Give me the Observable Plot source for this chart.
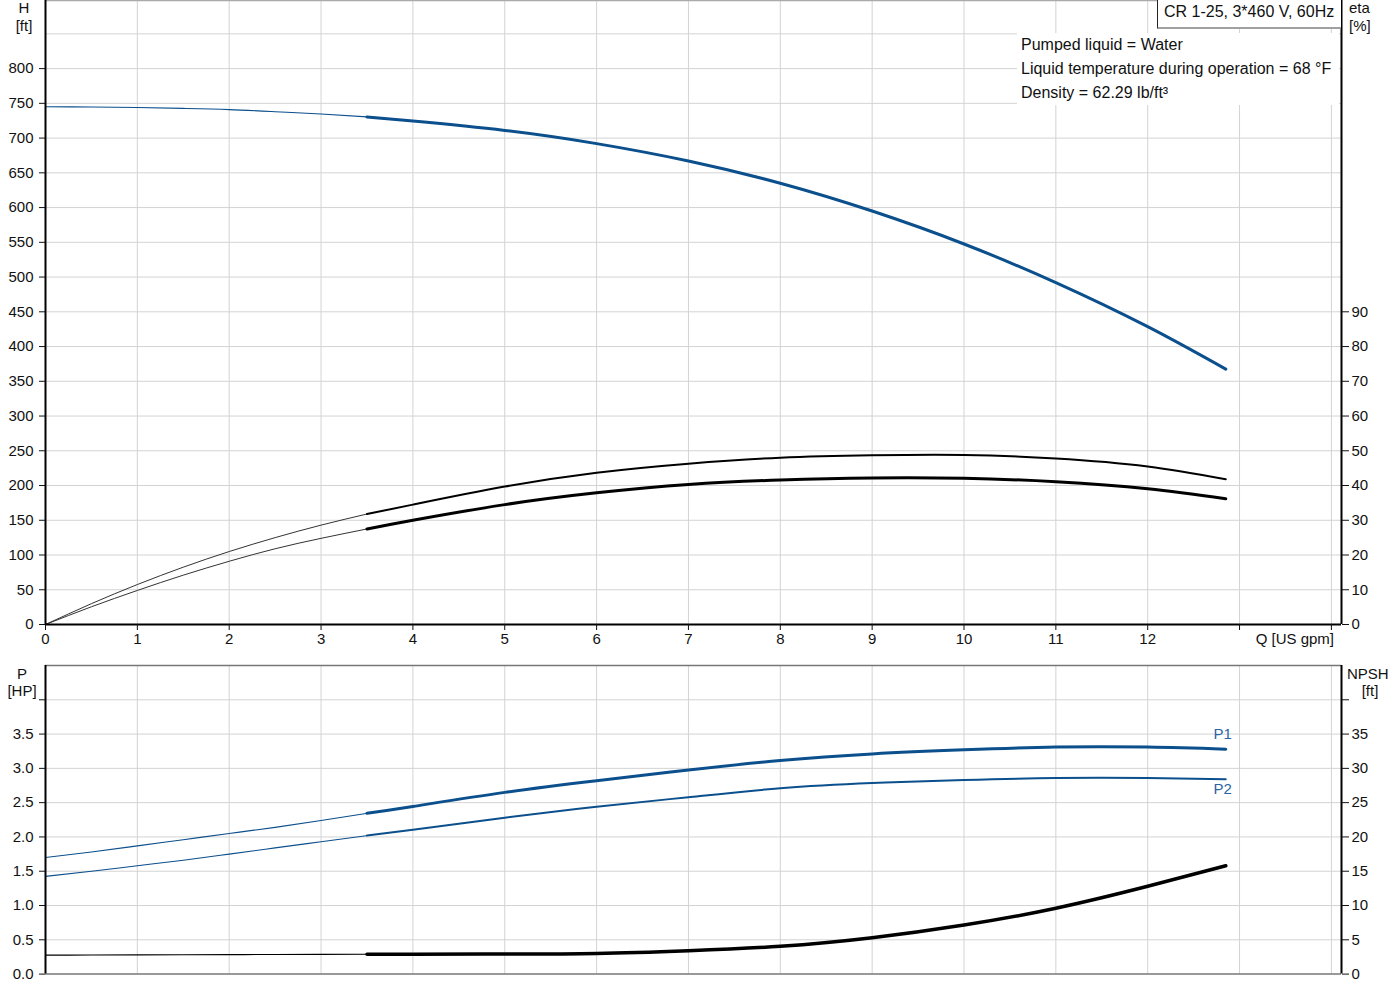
<!DOCTYPE html>
<html><head><meta charset="utf-8">
<script src="https://cdn.jsdelivr.net/npm/d3@7"></script>
<script src="https://cdn.jsdelivr.net/npm/@observablehq/plot@0.6"></script>
<style>
body{margin:0;background:#fff;font-family:"Liberation Sans",Arial,sans-serif;}
#wrap{position:relative;width:1400px;height:1000px;overflow:hidden;background:#fff;}
.abs{position:absolute;font-size:15px;color:#111;white-space:nowrap;line-height:15px;}
.plot{position:absolute;left:0;}
</style></head><body><div id="wrap"></div>
<script>
// ---- data ----
const Q    = [0,0.5,1,1.5,2,2.5,3,3.5,4,5,6,7,8,9,10,11,12,12.85];
const H    = [745,744.7,744,742.7,741,738,734.6,730.5,724.5,711,692,667,635,595,547.6,492,428.6,367.5];
const eta1 = [0,6.0,11.5,16.5,21.0,25.0,28.6,31.8,34.5,39.7,43.7,46.3,48.0,48.7,48.8,47.8,45.5,41.8];
const eta2 = [0,5.1,9.8,14.2,18.2,21.8,24.8,27.5,30.0,34.5,37.9,40.3,41.6,42.2,42.1,41.1,39.1,36.2];
const P1   = [1.70,1.78,1.87,1.96,2.05,2.14,2.24,2.345,2.445,2.65,2.82,2.975,3.115,3.21,3.27,3.31,3.31,3.28];
const P2   = [1.425,1.50,1.58,1.66,1.75,1.84,1.93,2.02,2.105,2.28,2.44,2.58,2.71,2.785,2.83,2.86,2.86,2.84];
const NPSH = [2.77,2.78,2.80,2.82,2.84,2.86,2.88,2.90,2.90,2.92,3.0,3.4,4.05,5.3,7.15,9.6,12.8,15.8];
const dutyStart = 3.5;

const xTicks   = [0,1,2,3,4,5,6,7,8,9,10,11,12,13,14];
const xLabelMax = 12;
const xMax = 14.11;
const hTicks   = [0,50,100,150,200,250,300,350,400,450,500,550,600,650,700,750,800];
const hGrid    = [50,100,150,200,250,300,350,400,450,500,550,600,650,700,750,800,850];
const hMax = 898;
const etaTicks = [0,10,20,30,40,50,60,70,80,90];
const etaToH = 5;
const pTicks   = [0,0.5,1,1.5,2,2.5,3,3.5,4];
const pLabelMax = 3.5;
const pMax = 4.5;
const npshToP = 10;

const title = "CR 1-25, 3*460 V, 60Hz";
const info = ["Pumped liquid = Water","Liquid temperature during operation = 68 °F","Density = 62.29 lb/ft³"];

const BLUE = "#0b4f8c", LBLUE = "#2c64a3", GRID = "#d3d3d3";

const rows = Q.map((q,i)=>({q, h:H[i], e1:eta1[i], e2:eta2[i], p1:P1[i], p2:P2[i], n:NPSH[i]}));
const thin  = rows.filter(d=>d.q<=dutyStart);
const thick = rows.filter(d=>d.q>=dutyStart);
const last = rows[rows.length-1];

const plotStyle = {fontFamily:'"Liberation Sans", Arial, sans-serif', fontSize:"15px", color:"#111", background:"transparent", overflow:"visible"};
const C = "natural";

const topPlot = Plot.plot({
  width:1400, height:656, marginLeft:45, marginRight:59, marginTop:0, marginBottom:32,
  style:plotStyle,
  x:{domain:[0,xMax], axis:null}, y:{domain:[0,hMax], axis:null},
  marks:[
    Plot.ruleX(xTicks.filter(d=>d>0), {stroke:GRID, strokeWidth:1}),
    Plot.ruleY(hGrid, {stroke:GRID, strokeWidth:1}),
    Plot.ruleY([hMax], {stroke:"#aaa", strokeWidth:1.5}),
    Plot.line(thin,  {x:"q", y:"h", stroke:BLUE, strokeWidth:1.1, curve:C}),
    Plot.line(thick, {x:"q", y:"h", stroke:BLUE, strokeWidth:3, curve:C}),
    Plot.line(thin,  {x:"q", y:d=>d.e1*etaToH, stroke:"#333", strokeWidth:1, curve:C}),
    Plot.line(thick, {x:"q", y:d=>d.e1*etaToH, stroke:"#000", strokeWidth:2, curve:C}),
    Plot.line(thin,  {x:"q", y:d=>d.e2*etaToH, stroke:"#333", strokeWidth:1, curve:C}),
    Plot.line(thick, {x:"q", y:d=>d.e2*etaToH, stroke:"#000", strokeWidth:3, curve:C}),
    Plot.ruleX([0], {stroke:"#000", strokeWidth:2}),
    Plot.ruleX([xMax], {stroke:"#000", strokeWidth:2}),
    Plot.ruleY([0], {stroke:"#000", strokeWidth:2}),
    Plot.axisY(hTicks, {anchor:"left", tickSize:6, tickPadding:6, label:null}),
    Plot.axisY(etaTicks.map(e=>e*etaToH), {anchor:"right", tickSize:7, tickPadding:3, tickFormat:d=>d/etaToH, label:null}),
    Plot.axisX(xTicks, {anchor:"bottom", tickSize:6, tickPadding:3, tickFormat:d=>d<=xLabelMax?d:"", label:null})
  ]
});

const bottomPlot = Plot.plot({
  width:1400, height:344, marginLeft:45, marginRight:59, marginTop:9, marginBottom:26.4,
  style:plotStyle,
  x:{domain:[0,xMax], axis:null}, y:{domain:[0,pMax], axis:null},
  marks:[
    Plot.ruleX(xTicks.filter(d=>d>0), {stroke:GRID, strokeWidth:1}),
    Plot.ruleY(pTicks.filter(d=>d>0), {stroke:GRID, strokeWidth:1}),
    Plot.line(thin,  {x:"q", y:"p1", stroke:BLUE, strokeWidth:1.1, curve:C}),
    Plot.line(thick, {x:"q", y:"p1", stroke:BLUE, strokeWidth:3, curve:C}),
    Plot.line(thin,  {x:"q", y:"p2", stroke:BLUE, strokeWidth:1.1, curve:C}),
    Plot.line(thick, {x:"q", y:"p2", stroke:BLUE, strokeWidth:2, curve:C}),
    Plot.line(thin,  {x:"q", y:d=>d.n/npshToP, stroke:"#000", strokeWidth:1.1, curve:"monotone-x"}),
    Plot.line(thick, {x:"q", y:d=>d.n/npshToP, stroke:"#000", strokeWidth:3.5, curve:C}),
    Plot.text([last], {x:"q", y:"p1", text:()=>"P1", dx:-3, dy:-15, fill:LBLUE, fontSize:15}),
    Plot.text([last], {x:"q", y:"p2", text:()=>"P2", dx:-3, dy:10, fill:LBLUE, fontSize:15}),
    Plot.ruleY([pMax], {stroke:"#777", strokeWidth:1.5}),
    Plot.ruleY([0], {stroke:"#777", strokeWidth:1.5}),
    Plot.ruleX([0], {stroke:"#000", strokeWidth:2}),
    Plot.ruleX([xMax], {stroke:"#000", strokeWidth:2}),
    Plot.axisY(pTicks, {anchor:"left", tickSize:6, tickPadding:6, tickFormat:d=>d<=pLabelMax?d.toFixed(1):"", label:null}),
    Plot.axisY(pTicks, {anchor:"right", tickSize:7, tickPadding:3, tickFormat:d=>d<=pLabelMax?Math.round(d*npshToP):"", label:null})
  ]
});

const wrap = document.getElementById("wrap");
topPlot.classList.add("plot"); topPlot.style.top = "0px";
bottomPlot.classList.add("plot"); bottomPlot.style.top = "656px";
wrap.appendChild(topPlot); wrap.appendChild(bottomPlot);

function label(text, css){
  const d = document.createElement("div");
  d.className = "abs"; d.textContent = text;
  Object.assign(d.style, css);
  wrap.appendChild(d);
  return d;
}
// axis unit labels
label("H",   {left:"4px", width:"40px", textAlign:"center", top:"0px"});
label("[ft]",{left:"4px", width:"40px", textAlign:"center", top:"18px"});
label("eta", {left:"1349px", top:"0px"});
label("[%]", {left:"1349px", top:"18px"});
label("Q [US gpm]", {right:(1400-1334)+"px", top:"631px"});
label("P",   {left:"2px", width:"40px", textAlign:"center", top:"666px"});
label("[HP]",{left:"2px", width:"40px", textAlign:"center", top:"683px"});
label("NPSH",{left:"1347px", top:"666px"});
label("[ft]",{left:"1350px", width:"40px", textAlign:"center", top:"683px"});

// title box
label(title, {left:"1157px", top:"-1px", width:"184px", height:"30px", boxSizing:"border-box",
  paddingLeft:"6px", paddingTop:"5px", fontSize:"16px", lineHeight:"16px", background:"#fff",
  borderLeft:"1px solid #222", borderBottom:"2px solid #a0a0a0"});
// info box
const ib = document.createElement("div");
ib.className = "abs";
Object.assign(ib.style, {left:"1017px", top:"33px", width:"322px", height:"72px", background:"#fff",
  fontSize:"16px", lineHeight:"24px", paddingLeft:"4px", boxSizing:"border-box"});
ib.innerHTML = info.map(t=>`<div style="height:24px">${t}</div>`).join("");
wrap.appendChild(ib);
</script></body></html>
